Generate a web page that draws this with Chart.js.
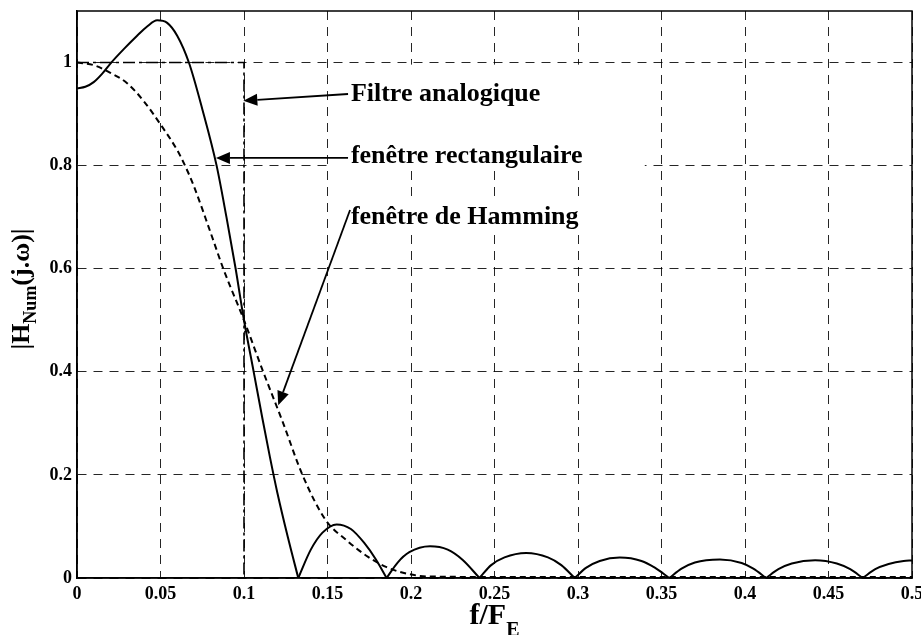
<!DOCTYPE html>
<html>
<head>
<meta charset="utf-8">
<script src="https://cdn.jsdelivr.net/npm/chart.js@4/dist/chart.umd.min.js"></script>
<style>
  body { margin: 0; background: #fff; }
  #wrap { width: 921px; height: 635px; }
</style>
</head>
<body>
<div id="wrap"><canvas id="myChart" width="921" height="635"></canvas></div>
<script>
const FONT = '"Liberation Serif", "Times New Roman", serif';

// ideal analog low-pass (cutoff 0.1)
const analogFreq = [0, 0.1, 0.1, 0.5];
const analogMag = [1, 1, 0, 0];

// rectangular window response
const rectFreq = [0, 0.005, 0.010, 0.015, 0.020, 0.028, 0.036, 0.042, 0.048, 0.054, 0.060, 0.067, 0.075, 0.0836, 0.0895, 0.095, 0.100, 0.1058, 0.111, 0.1155, 0.120, 0.1262, 0.1325,
    0.140, 0.147, 0.1555, 0.164, 0.172, 0.179, 0.1854,
    0.192, 0.199, 0.2114, 0.222, 0.231, 0.241,
    0.248, 0.256, 0.269, 0.282, 0.290, 0.298,
    0.305, 0.313, 0.325, 0.338, 0.346, 0.3547,
    0.362, 0.370, 0.385, 0.398, 0.405, 0.4126,
    0.420, 0.428, 0.442, 0.455, 0.463, 0.4705,
    0.478, 0.486, 0.495, 0.5];
const rectMag = [0.950, 0.953, 0.962, 0.978, 0.998, 1.026, 1.052, 1.070, 1.082, 1.077, 1.052, 1.000, 0.910, 0.800, 0.700, 0.600, 0.500, 0.400, 0.310, 0.235, 0.165, 0.080, 0,
    0.055, 0.088, 0.104, 0.095, 0.068, 0.036, 0,
    0.030, 0.050, 0.0616, 0.055, 0.035, 0,
    0.025, 0.040, 0.0486, 0.040, 0.025, 0,
    0.020, 0.033, 0.0396, 0.033, 0.020, 0,
    0.018, 0.030, 0.0357, 0.029, 0.018, 0,
    0.017, 0.028, 0.0344, 0.028, 0.017, 0,
    0.017, 0.027, 0.033, 0.034];

// Hamming window response
const hamFreq = [0, 0.010, 0.020, 0.030, 0.040, 0.050, 0.060, 0.0647, 0.070, 0.080, 0.0876, 0.100, 0.1115, 0.1235, 0.135, 0.149, 0.1615, 0.1743, 0.1854, 0.1974, 0.210, 0.250, 0.300, 0.350, 0.400, 0.450, 0.500];
const hamMag = [1.000, 0.995, 0.980, 0.960, 0.925, 0.880, 0.830, 0.800, 0.760, 0.670, 0.600, 0.500, 0.400, 0.300, 0.200, 0.112, 0.073, 0.041, 0.021, 0.0085, 0.003, 0.002, 0.002, 0.002, 0.002, 0.002, 0.002];

const xTicks = [0, 0.05, 0.1, 0.15, 0.2, 0.25, 0.3, 0.35, 0.4, 0.45, 0.5];
const yTicks = [0, 0.2, 0.4, 0.6, 0.8, 1];

function toPoints(xs, ys) {
    return xs.map((x, i) => ({ x: x, y: ys[i] }));
}

// cut the rectangular curve at its zeros so every lobe keeps a sharp cusp
function splitAtZeros(xs, ys) {
    var parts = [];
    var cur = [];
    for (var i = 0; i < xs.length; i++) {
        cur.push({ x: xs[i], y: ys[i] });
        if (ys[i] === 0 && cur.length > 1) {
            parts.push(cur);
            cur = [{ x: xs[i], y: ys[i] }];
        }
    }
    if (cur.length > 1) parts.push(cur);
    return parts;
}

var datasets = [];
datasets.push({
    data: toPoints(analogFreq, analogMag),
    borderColor: '#000', borderWidth: 1.6, borderDash: [12, 4, 3, 4],
    pointRadius: 0, tension: 0
});
splitAtZeros(rectFreq, rectMag).forEach(function (seg) {
    datasets.push({
        data: seg, borderColor: '#000', borderWidth: 2,
        pointRadius: 0, cubicInterpolationMode: 'monotone'
    });
});
datasets.push({
    data: toPoints(hamFreq, hamMag),
    borderColor: '#000', borderWidth: 2, borderDash: [6, 4],
    pointRadius: 0, cubicInterpolationMode: 'monotone'
});

function arrow(ctx, x1, y1, x2, y2) {
    var ang = Math.atan2(y2 - y1, x2 - x1);
    var len = 14, half = 6;
    var bx = x2 - len * Math.cos(ang), by = y2 - len * Math.sin(ang);
    ctx.beginPath();
    ctx.moveTo(x1, y1);
    ctx.lineTo(bx, by);
    ctx.lineWidth = 1.8;
    ctx.strokeStyle = '#000';
    ctx.setLineDash([]);
    ctx.stroke();
    ctx.beginPath();
    ctx.moveTo(x2, y2);
    ctx.lineTo(bx + half * Math.sin(ang), by - half * Math.cos(ang));
    ctx.lineTo(bx - half * Math.sin(ang), by + half * Math.cos(ang));
    ctx.closePath();
    ctx.fillStyle = '#000';
    ctx.fill();
}

const notes = {
    id: 'notes',
    afterDatasetsDraw(chart) {
        var ctx = chart.ctx;
        var xs = chart.scales.x, ys = chart.scales.y;
        var px = v => xs.getPixelForValue(v), py = v => ys.getPixelForValue(v);
        var area = chart.chartArea;
        ctx.save();

        // white patch behind the upper two labels
        ctx.fillStyle = '#fff';
        ctx.fillRect(px(0.1515), py(0.996), px(0.34) - px(0.1515), py(0.79) - py(0.996));

        ctx.font = 'bold 26px ' + FONT;
        ctx.textBaseline = 'alphabetic';
        ctx.textAlign = 'left';
        var hamTxt = 'fenêtre de Hamming';
        var w = ctx.measureText(hamTxt).width;
        ctx.fillStyle = '#fff';
        ctx.fillRect(px(0.164) - 2, py(0.687) - 21, w + 4, 28);

        ctx.fillStyle = '#000';
        ctx.fillText('Filtre analogique', px(0.164), py(0.9256));
        ctx.fillText('fenêtre rectangulaire', px(0.164), py(0.806));
        ctx.fillText(hamTxt, px(0.164), py(0.687));

        arrow(ctx, px(0.1623), py(0.939), px(0.0996), py(0.926));
        arrow(ctx, px(0.1623), py(0.815), px(0.0832), py(0.815));
        arrow(ctx, px(0.1635), py(0.714), px(0.1205), py(0.335));

        // frame
        ctx.strokeStyle = '#000';
        ctx.lineWidth = 1.5;
        ctx.setLineDash([]);
        ctx.strokeRect(area.left, area.top, area.right - area.left, area.bottom - area.top);

        // axis titles with subscripts
        ctx.fillStyle = '#000';
        var a = 'f/F';
        ctx.font = 'bold 30px ' + FONT;
        var wa = ctx.measureText(a).width;
        ctx.font = 'bold 20px ' + FONT;
        var wb = ctx.measureText('E').width;
        var cx = (area.left + area.right) / 2;
        var sx = cx - (wa + wb) / 2;
        ctx.font = 'bold 30px ' + FONT;
        ctx.fillText(a, sx, 624);
        ctx.font = 'bold 20px ' + FONT;
        ctx.fillText('E', sx + wa, 636);

        ctx.translate(29, 289);
        ctx.rotate(-Math.PI / 2);
        var p1 = '|H', p2 = 'Num', p3 = '(j.ω)|';
        ctx.font = 'bold 26px ' + FONT;
        var w1 = ctx.measureText(p1).width, w3 = ctx.measureText(p3).width;
        ctx.font = 'bold 18px ' + FONT;
        var w2 = ctx.measureText(p2).width;
        var s = -(w1 + w2 + w3) / 2;
        ctx.font = 'bold 26px ' + FONT;
        ctx.fillText(p1, s, 0);
        ctx.font = 'bold 18px ' + FONT;
        ctx.fillText(p2, s + w1, 7);
        ctx.font = 'bold 26px ' + FONT;
        ctx.fillText(p3, s + w1 + w2, 0);
        ctx.restore();
    }
};

const config = {
    type: 'line',
    data: { datasets: datasets },
    options: {
        responsive: false,
        devicePixelRatio: 1,
        animation: false,
        layout: { padding: { top: 11, right: 9, left: 0, bottom: 0 } },
        plugins: { legend: { display: false }, tooltip: { enabled: false } },
        scales: {
            x: {
                type: 'linear', min: 0, max: 0.5,
                afterBuildTicks: s => { s.ticks = xTicks.map(v => ({ value: v })); },
                afterFit: s => { s.height = 57; s.paddingLeft = 0; s.paddingRight = 0; },
                ticks: {
                    color: '#000', padding: 6, maxRotation: 0, autoSkip: false,
                    font: { family: FONT, size: 18, weight: 'bold' },
                    callback: v => String(+v.toFixed(2))
                },
                grid: { color: 'rgba(0,0,0,0.85)', lineWidth: 1, drawTicks: false },
                border: { color: '#000', width: 1.5, dash: [9, 7] }
            },
            y: {
                type: 'linear', min: 0, max: 1.1,
                afterBuildTicks: s => { s.ticks = yTicks.map(v => ({ value: v })); },
                afterFit: s => { s.width = 77; s.paddingTop = 0; s.paddingBottom = 0; },
                ticks: {
                    color: '#000', padding: 5,
                    font: { family: FONT, size: 18, weight: 'bold' },
                    callback: v => String(+v.toFixed(2))
                },
                grid: { color: 'rgba(0,0,0,0.85)', lineWidth: 1, drawTicks: false },
                border: { color: '#000', width: 1.5, dash: [9, 7] }
            }
        }
    },
    plugins: [notes]
};

var myChart = new Chart(document.getElementById('myChart'), config);
</script>
</body>
</html>
